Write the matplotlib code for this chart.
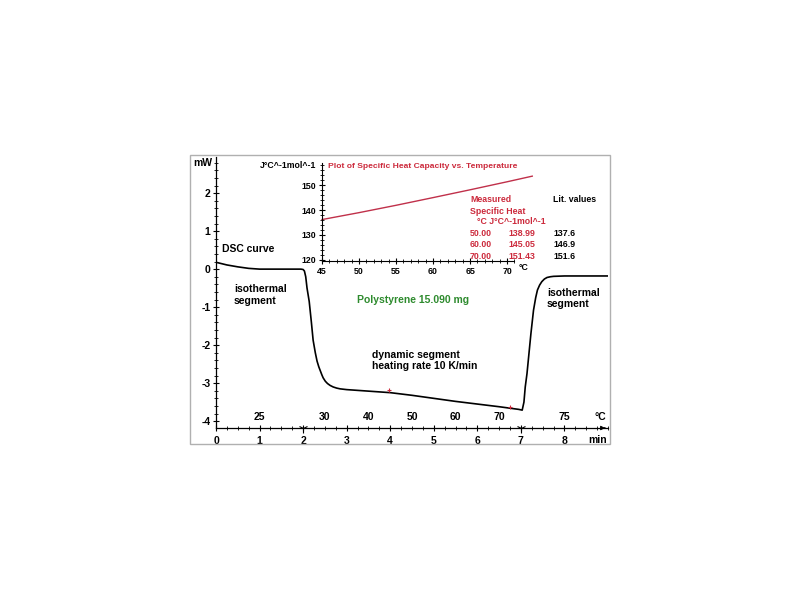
import matplotlib
matplotlib.use("Agg")
import matplotlib.pyplot as plt
from matplotlib.patches import Rectangle
from matplotlib.ticker import MultipleLocator

plt.rcParams['font.family'] = ['Liberation Sans', 'DejaVu Sans']
plt.rcParams['font.weight'] = 'bold'
plt.rcParams['axes.unicode_minus'] = False

# ---- DSC curve data (time in min, heat flow in mW) ----
time_min = [0.0, 0.25, 0.5, 0.75, 1.0, 1.5, 1.95, 2.0, 2.03, 2.06, 2.09, 2.14, 2.19, 2.23, 2.28, 2.32, 2.36, 2.39,
            2.43, 2.46, 2.51, 2.56, 2.62, 2.69, 2.77, 2.85, 3.0, 3.5, 4.0, 4.5, 5.0, 5.5, 6.0, 6.5, 6.95, 7.03,
            7.07, 7.1, 7.14, 7.17, 7.23, 7.29, 7.34, 7.38, 7.43, 7.48, 7.54, 7.6, 7.68, 7.75, 8.0, 8.5, 9.0]
heat_flow = [0.18, 0.11, 0.06, 0.02, 0.0, 0.0, 0.0, -0.01, -0.05, -0.2, -0.5, -0.85, -1.4, -1.87, -2.2, -2.42, -2.57, -2.66,
             -2.78, -2.86, -2.95, -3.01, -3.06, -3.1, -3.13, -3.15, -3.17, -3.21, -3.25, -3.32, -3.40, -3.48, -3.55, -3.62, -3.69, -3.71,
             -3.5, -3.1, -2.75, -2.4, -1.7, -1.08, -0.75, -0.55, -0.42, -0.33, -0.26, -0.22, -0.2, -0.19, -0.18, -0.18, -0.18]
marker_time = [3.98, 6.74]
marker_flow = [-3.18, -3.63]

temp_tick_time = [1, 2.5, 3.5, 4.5, 5.5, 6.5, 8]
temp_tick_labels = ['25', '30', '40', '50', '60', '70', '75']
segment_bounds = [2, 7]

# ---- inset: specific heat capacity ----
cp_temp = [45, 50, 55, 60, 65, 70, 73.4]
cp_value = [136.2, 138.99, 141.95, 145.05, 148.2, 151.43, 153.7]
table_temp = ['50.00', '60.00', '70.00']
table_cp = ['138.99', '145.05', '151.43']
table_lit = ['137.6', '146.9', '151.6']

RED = '#cc2a3c'
LINE_RED = '#c0304a'
GREEN = '#2e8b2e'

W, H = 800, 600
fig = plt.figure(figsize=(8, 6), dpi=100)
fig.patches.append(Rectangle((190/W, 1-444/H), 420/W, 289/H, transform=fig.transFigure,
                             fill=False, edgecolor='#b0b0b0', lw=1.0))

def fr(x0, y0, x1, y1):
    return [x0/W, 1-y1/H, (x1-x0)/W, (y1-y0)/H]

def ptext(x, y, s, **kw):
    kw.setdefault('va', 'center')
    return fig.text(x/W, 1-y/H, s, **kw)

AX_TOP, AX_BOT = 157, 428
ax = fig.add_axes(fr(216, AX_TOP, 608, AX_BOT))
ax.plot(time_min, heat_flow, color='black', lw=1.2)
ax.plot(marker_time, marker_flow, '+', color=RED, ms=3, mew=0.8)
ax.set_xlim(0, 9.0)
ax.set_ylim(-4.18, 2.95)
for s in ['top', 'right']:
    ax.spines[s].set_visible(False)
ax.xaxis.set_minor_locator(MultipleLocator(0.25))
ax.yaxis.set_minor_locator(MultipleLocator(0.2))
ax.set_xticks(range(0, 9))
ax.set_yticks(range(-4, 3))
ax.tick_params(axis='y', which='major', direction='inout', length=5, width=0.8, labelsize=7.5, pad=1.5)
ax.tick_params(axis='y', which='minor', direction='inout', length=3, width=0.6)
ax.tick_params(axis='x', which='major', direction='inout', length=5, width=0.8, labelsize=7.5, pad=3.5)
ax.tick_params(axis='x', which='minor', direction='inout', length=3, width=0.6)
for sp in ax.spines.values():
    sp.set_linewidth(0.9)
ax.annotate('', xy=(1.0, 0), xytext=(0.985, 0), xycoords='axes fraction',
            arrowprops=dict(arrowstyle='-|>', color='black', lw=0.8, mutation_scale=6))
ax.plot(segment_bounds, [-4.18, -4.18], marker='1', ls='none', color='black', ms=7, mew=0.8, clip_on=False)

ty = (AX_BOT - 417) / (AX_BOT - AX_TOP)
for t, lab in zip(temp_tick_time, temp_tick_labels):
    ax.text(t, ty, lab, transform=ax.get_xaxis_transform(), ha='center', va='center', fontsize=7.5)
ptext(606, 417, '°C', ha='right', fontsize=7.5)
ptext(607, 440, 'min', ha='right', fontsize=7.5)
ptext(212, 163, 'mW', ha='right', fontsize=7.5)

ptext(222, 249, 'DSC curve', fontsize=7.5)
ptext(234, 295, 'isothermal\nsegment', fontsize=7.5, linespacing=1.2)
ptext(357, 300, 'Polystyrene 15.090 mg', fontsize=7.5, color=GREEN)
ptext(372, 360.5, 'dynamic segment\nheating rate 10 K/min', fontsize=7.5, linespacing=1.2)
ptext(547, 298.5, 'isothermal\nsegment', fontsize=7.5, linespacing=1.2)

# inset
ins = fig.add_axes(fr(322, 163, 533, 261))
ins.plot(cp_temp, cp_value, color=LINE_RED, lw=1.0, clip_on=False)
ins.set_xlim(45, 73.5)
ins.set_ylim(119.5, 159)
for s in ['top', 'right']:
    ins.spines[s].set_visible(False)
ins.spines['bottom'].set_bounds(45, 71)
ins.set_xticks([45, 50, 55, 60, 65, 70])
ins.set_xticks(list(range(45, 72)), minor=True)
ins.set_yticks([120, 130, 140, 150])
ins.set_yticks(list(range(120, 159, 2)), minor=True)
ins.tick_params(axis='both', which='major', direction='inout', length=4, width=0.8, labelsize=6.3, pad=2)
ins.tick_params(axis='both', which='minor', direction='inout', length=2.5, width=0.6)
ptext(316, 165, 'J°C^-1mol^-1', ha='right', fontsize=6.3)
ptext(524, 268, '°C', ha='center', fontsize=6.3)
ptext(328, 167, 'Plot of Specific Heat Capacity vs. Temperature', ha='left', color=RED, fontsize=6.1)

FS = 6.3
ptext(470, 199, 'Measured', color=RED, fontsize=FS)
ptext(470, 211, 'Specific Heat', color=RED, fontsize=FS)
ptext(477, 221, '°C J°C^-1mol^-1', color=RED, fontsize=FS)
ptext(553, 199, 'Lit. values', color='black', fontsize=FS)
for i, (tt, cp, lit) in enumerate(zip(table_temp, table_cp, table_lit)):
    yy = 233 + i*11.5
    ptext(470, yy, tt, color=RED, fontsize=FS)
    ptext(535, yy, cp, color=RED, fontsize=FS, ha='right')
    ptext(553, yy, lit, color='black', fontsize=FS)

fig.savefig('out.png', dpi=100)
